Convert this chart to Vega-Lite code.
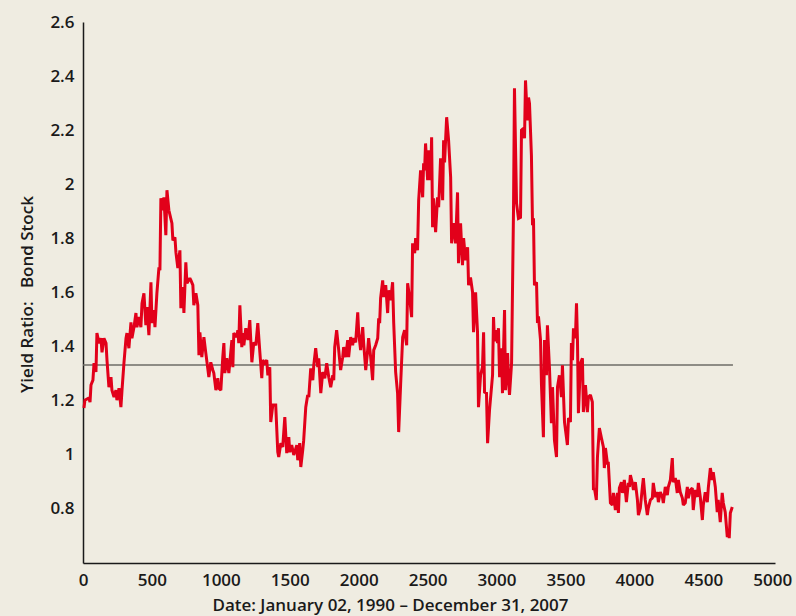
{
  "$schema": "https://vega.github.io/schema/vega-lite/v6.json",
  "autosize": {"type": "none"},
  "padding": {"left": 83, "top": 22, "right": 21, "bottom": 53},
  "width": 692,
  "height": 541,
  "background": "#efece1",
  "config": {
    "view": {"stroke": null},
    "axis": {"grid": false, "ticks": false, "domainColor": "#1a1a1a", "domainWidth": 1.5,
      "labelFont": "Open Sans", "labelFontWeight": 600, "labelFontSize": 17, "labelColor": "#1a1a1a",
      "titleFont": "Open Sans", "titleFontWeight": 600, "titleFontSize": 17, "titleColor": "#1a1a1a"}
  },
  "datasets": {
    "series": [
      {"day":7,"ratio":1.173},{"day":14,"ratio":1.202},{"day":43,"ratio":1.21},{"day":51,"ratio":1.195},{"day":58,"ratio":1.258},{"day":72,"ratio":1.276},{"day":80,"ratio":1.339},{"day":94,"ratio":1.306},{"day":101,"ratio":1.45},{"day":116,"ratio":1.413},{"day":130,"ratio":1.431},{"day":138,"ratio":1.379},{"day":152,"ratio":1.431},{"day":167,"ratio":1.413},{"day":174,"ratio":1.35},{"day":188,"ratio":1.25},{"day":203,"ratio":1.287},{"day":210,"ratio":1.239},{"day":225,"ratio":1.213},{"day":239,"ratio":1.239},{"day":246,"ratio":1.202},{"day":261,"ratio":1.246},{"day":275,"ratio":1.176},{"day":283,"ratio":1.239},{"day":297,"ratio":1.339},{"day":312,"ratio":1.431},{"day":319,"ratio":1.45},{"day":333,"ratio":1.394},{"day":348,"ratio":1.49},{"day":355,"ratio":1.431},{"day":370,"ratio":1.472},{"day":384,"ratio":1.524},{"day":391,"ratio":1.472},{"day":406,"ratio":1.509},{"day":420,"ratio":1.472},{"day":428,"ratio":1.56},{"day":442,"ratio":1.597},{"day":456,"ratio":1.479},{"day":464,"ratio":1.546},{"day":478,"ratio":1.442},{"day":493,"ratio":1.638},{"day":500,"ratio":1.487},{"day":514,"ratio":1.535},{"day":522,"ratio":1.472},{"day":536,"ratio":1.597},{"day":551,"ratio":1.693},{"day":558,"ratio":1.682},{"day":565,"ratio":1.948},{"day":580,"ratio":1.904},{"day":587,"ratio":1.952},{"day":601,"ratio":1.812},{"day":609,"ratio":1.978},{"day":623,"ratio":1.904},{"day":645,"ratio":1.856},{"day":652,"ratio":1.793},{"day":667,"ratio":1.804},{"day":674,"ratio":1.749},{"day":688,"ratio":1.69},{"day":703,"ratio":1.756},{"day":710,"ratio":1.542},{"day":725,"ratio":1.62},{"day":732,"ratio":1.524},{"day":746,"ratio":1.712},{"day":754,"ratio":1.634},{"day":775,"ratio":1.653},{"day":783,"ratio":1.645},{"day":797,"ratio":1.627},{"day":804,"ratio":1.553},{"day":819,"ratio":1.597},{"day":833,"ratio":1.553},{"day":841,"ratio":1.368},{"day":848,"ratio":1.453},{"day":862,"ratio":1.361},{"day":877,"ratio":1.435},{"day":891,"ratio":1.376},{"day":913,"ratio":1.287},{"day":927,"ratio":1.342},{"day":942,"ratio":1.313},{"day":949,"ratio":1.302},{"day":964,"ratio":1.239},{"day":978,"ratio":1.283},{"day":985,"ratio":1.246},{"day":1000,"ratio":1.239},{"day":1014,"ratio":1.361},{"day":1022,"ratio":1.413},{"day":1029,"ratio":1.302},{"day":1043,"ratio":1.357},{"day":1058,"ratio":1.302},{"day":1080,"ratio":1.424},{"day":1087,"ratio":1.324},{"day":1094,"ratio":1.45},{"day":1116,"ratio":1.435},{"day":1123,"ratio":1.461},{"day":1130,"ratio":1.413},{"day":1138,"ratio":1.553},{"day":1152,"ratio":1.398},{"day":1159,"ratio":1.45},{"day":1167,"ratio":1.405},{"day":1181,"ratio":1.468},{"day":1196,"ratio":1.424},{"day":1210,"ratio":1.498},{"day":1225,"ratio":1.342},{"day":1239,"ratio":1.416},{"day":1254,"ratio":1.405},{"day":1268,"ratio":1.487},{"day":1283,"ratio":1.379},{"day":1297,"ratio":1.283},{"day":1304,"ratio":1.35},{"day":1319,"ratio":1.339},{"day":1333,"ratio":1.35},{"day":1341,"ratio":1.294},{"day":1355,"ratio":1.324},{"day":1362,"ratio":1.121},{"day":1377,"ratio":1.184},{"day":1398,"ratio":1.184},{"day":1413,"ratio":1.01},{"day":1420,"ratio":0.992},{"day":1435,"ratio":1.043},{"day":1449,"ratio":1.029},{"day":1464,"ratio":1.139},{"day":1478,"ratio":1.006},{"day":1493,"ratio":1.065},{"day":1500,"ratio":1.01},{"day":1514,"ratio":1.036},{"day":1529,"ratio":0.999},{"day":1551,"ratio":1.036},{"day":1558,"ratio":0.98},{"day":1572,"ratio":1.043},{"day":1580,"ratio":0.955},{"day":1594,"ratio":1.017},{"day":1601,"ratio":1.054},{"day":1616,"ratio":1.176},{"day":1630,"ratio":1.221},{"day":1638,"ratio":1.213},{"day":1652,"ratio":1.32},{"day":1667,"ratio":1.276},{"day":1674,"ratio":1.331},{"day":1688,"ratio":1.394},{"day":1703,"ratio":1.324},{"day":1710,"ratio":1.357},{"day":1725,"ratio":1.228},{"day":1739,"ratio":1.306},{"day":1754,"ratio":1.283},{"day":1768,"ratio":1.339},{"day":1783,"ratio":1.287},{"day":1797,"ratio":1.25},{"day":1812,"ratio":1.294},{"day":1819,"ratio":1.276},{"day":1826,"ratio":1.398},{"day":1840,"ratio":1.461},{"day":1855,"ratio":1.387},{"day":1869,"ratio":1.313},{"day":1884,"ratio":1.361},{"day":1891,"ratio":1.398},{"day":1906,"ratio":1.361},{"day":1920,"ratio":1.424},{"day":1927,"ratio":1.361},{"day":1942,"ratio":1.435},{"day":1956,"ratio":1.405},{"day":1964,"ratio":1.431},{"day":1978,"ratio":1.416},{"day":1993,"ratio":1.527},{"day":2000,"ratio":1.45},{"day":2014,"ratio":1.387},{"day":2029,"ratio":1.472},{"day":2036,"ratio":1.413},{"day":2051,"ratio":1.313},{"day":2065,"ratio":1.387},{"day":2072,"ratio":1.431},{"day":2087,"ratio":1.361},{"day":2101,"ratio":1.276},{"day":2109,"ratio":1.387},{"day":2123,"ratio":1.405},{"day":2138,"ratio":1.431},{"day":2145,"ratio":1.505},{"day":2152,"ratio":1.487},{"day":2159,"ratio":1.579},{"day":2174,"ratio":1.645},{"day":2181,"ratio":1.583},{"day":2196,"ratio":1.627},{"day":2210,"ratio":1.524},{"day":2217,"ratio":1.608},{"day":2232,"ratio":1.572},{"day":2246,"ratio":1.638},{"day":2254,"ratio":1.487},{"day":2268,"ratio":1.306},{"day":2282,"ratio":1.228},{"day":2290,"ratio":1.084},{"day":2304,"ratio":1.258},{"day":2319,"ratio":1.435},{"day":2333,"ratio":1.461},{"day":2348,"ratio":1.405},{"day":2355,"ratio":1.634},{"day":2369,"ratio":1.583},{"day":2384,"ratio":1.509},{"day":2391,"ratio":1.782},{"day":2406,"ratio":1.745},{"day":2413,"ratio":1.801},{"day":2427,"ratio":1.756},{"day":2435,"ratio":1.941},{"day":2449,"ratio":2.052},{"day":2464,"ratio":1.952},{"day":2471,"ratio":2.078},{"day":2478,"ratio":2.052},{"day":2485,"ratio":2.151},{"day":2500,"ratio":2.015},{"day":2507,"ratio":2.126},{"day":2522,"ratio":2.015},{"day":2529,"ratio":2.174},{"day":2536,"ratio":1.841},{"day":2543,"ratio":1.948},{"day":2558,"ratio":1.823},{"day":2572,"ratio":1.952},{"day":2580,"ratio":1.915},{"day":2594,"ratio":2.096},{"day":2609,"ratio":1.941},{"day":2616,"ratio":2.163},{"day":2623,"ratio":2.081},{"day":2638,"ratio":2.248},{"day":2652,"ratio":2.163},{"day":2667,"ratio":2.026},{"day":2674,"ratio":1.782},{"day":2688,"ratio":1.856},{"day":2703,"ratio":1.782},{"day":2717,"ratio":1.97},{"day":2724,"ratio":1.708},{"day":2739,"ratio":1.856},{"day":2753,"ratio":1.701},{"day":2761,"ratio":1.801},{"day":2775,"ratio":1.719},{"day":2790,"ratio":1.767},{"day":2797,"ratio":1.627},{"day":2811,"ratio":1.656},{"day":2826,"ratio":1.601},{"day":2833,"ratio":1.453},{"day":2848,"ratio":1.601},{"day":2862,"ratio":1.453},{"day":2869,"ratio":1.176},{"day":2884,"ratio":1.294},{"day":2898,"ratio":1.324},{"day":2906,"ratio":1.453},{"day":2913,"ratio":1.232},{"day":2927,"ratio":1.228},{"day":2935,"ratio":1.043},{"day":2949,"ratio":1.165},{"day":2971,"ratio":1.294},{"day":2978,"ratio":1.509},{"day":2985,"ratio":1.42},{"day":3000,"ratio":1.461},{"day":3007,"ratio":1.413},{"day":3014,"ratio":1.468},{"day":3022,"ratio":1.287},{"day":3036,"ratio":1.394},{"day":3043,"ratio":1.228},{"day":3058,"ratio":1.535},{"day":3065,"ratio":1.239},{"day":3080,"ratio":1.376},{"day":3087,"ratio":1.276},{"day":3094,"ratio":1.221},{"day":3109,"ratio":1.339},{"day":3123,"ratio":1.904},{"day":3130,"ratio":2.355},{"day":3145,"ratio":1.93},{"day":3159,"ratio":1.874},{"day":3174,"ratio":1.878},{"day":3181,"ratio":2.2},{"day":3195,"ratio":2.207},{"day":3203,"ratio":2.17},{"day":3210,"ratio":2.384},{"day":3224,"ratio":2.236},{"day":3232,"ratio":2.321},{"day":3239,"ratio":2.299},{"day":3253,"ratio":2.107},{"day":3261,"ratio":1.849},{"day":3268,"ratio":1.874},{"day":3275,"ratio":1.627},{"day":3290,"ratio":1.638},{"day":3297,"ratio":1.487},{"day":3304,"ratio":1.512},{"day":3319,"ratio":1.424},{"day":3326,"ratio":1.258},{"day":3340,"ratio":1.065},{"day":3348,"ratio":1.424},{"day":3362,"ratio":1.294},{"day":3369,"ratio":1.479},{"day":3384,"ratio":1.32},{"day":3398,"ratio":1.117},{"day":3406,"ratio":1.25},{"day":3420,"ratio":1.054},{"day":3435,"ratio":0.992},{"day":3442,"ratio":1.25},{"day":3456,"ratio":1.294},{"day":3471,"ratio":1.213},{"day":3478,"ratio":1.331},{"day":3493,"ratio":1.121},{"day":3507,"ratio":1.065},{"day":3514,"ratio":1.036},{"day":3522,"ratio":1.136},{"day":3536,"ratio":1.121},{"day":3543,"ratio":1.413},{"day":3551,"ratio":1.35},{"day":3558,"ratio":1.468},{"day":3572,"ratio":1.431},{"day":3580,"ratio":1.56},{"day":3587,"ratio":1.424},{"day":3594,"ratio":1.154},{"day":3609,"ratio":1.339},{"day":3623,"ratio":1.357},{"day":3630,"ratio":1.158},{"day":3645,"ratio":1.258},{"day":3659,"ratio":1.158},{"day":3666,"ratio":1.213},{"day":3681,"ratio":1.221},{"day":3695,"ratio":1.195},{"day":3703,"ratio":0.87},{"day":3710,"ratio":0.877},{"day":3724,"ratio":0.833},{"day":3732,"ratio":0.992},{"day":3746,"ratio":1.099},{"day":3761,"ratio":1.062},{"day":3775,"ratio":1.029},{"day":3782,"ratio":0.951},{"day":3790,"ratio":1.025},{"day":3804,"ratio":0.969},{"day":3811,"ratio":0.969},{"day":3826,"ratio":0.822},{"day":3840,"ratio":0.814},{"day":3848,"ratio":0.859},{"day":3862,"ratio":0.796},{"day":3877,"ratio":0.859},{"day":3884,"ratio":0.785},{"day":3891,"ratio":0.877},{"day":3906,"ratio":0.899},{"day":3913,"ratio":0.859},{"day":3927,"ratio":0.907},{"day":3942,"ratio":0.825},{"day":3956,"ratio":0.896},{"day":3964,"ratio":0.881},{"day":3971,"ratio":0.925},{"day":3985,"ratio":0.896},{"day":3993,"ratio":0.87},{"day":4007,"ratio":0.899},{"day":4022,"ratio":0.833},{"day":4029,"ratio":0.777},{"day":4043,"ratio":0.803},{"day":4058,"ratio":0.881},{"day":4065,"ratio":0.914},{"day":4079,"ratio":0.833},{"day":4094,"ratio":0.777},{"day":4101,"ratio":0.803},{"day":4116,"ratio":0.833},{"day":4130,"ratio":0.84},{"day":4137,"ratio":0.896},{"day":4152,"ratio":0.844},{"day":4166,"ratio":0.862},{"day":4174,"ratio":0.825},{"day":4188,"ratio":0.862},{"day":4203,"ratio":0.844},{"day":4210,"ratio":0.822},{"day":4224,"ratio":0.881},{"day":4239,"ratio":0.851},{"day":4246,"ratio":0.881},{"day":4261,"ratio":0.907},{"day":4275,"ratio":0.988},{"day":4282,"ratio":0.899},{"day":4297,"ratio":0.914},{"day":4311,"ratio":0.859},{"day":4319,"ratio":0.907},{"day":4333,"ratio":0.862},{"day":4348,"ratio":0.84},{"day":4355,"ratio":0.814},{"day":4369,"ratio":0.822},{"day":4384,"ratio":0.881},{"day":4391,"ratio":0.84},{"day":4406,"ratio":0.87},{"day":4420,"ratio":0.877},{"day":4427,"ratio":0.796},{"day":4442,"ratio":0.87},{"day":4456,"ratio":0.844},{"day":4464,"ratio":0.896},{"day":4478,"ratio":0.844},{"day":4493,"ratio":0.759},{"day":4500,"ratio":0.814},{"day":4514,"ratio":0.862},{"day":4529,"ratio":0.825},{"day":4536,"ratio":0.877},{"day":4551,"ratio":0.951},{"day":4565,"ratio":0.907},{"day":4572,"ratio":0.936},{"day":4587,"ratio":0.881},{"day":4601,"ratio":0.788},{"day":4608,"ratio":0.833},{"day":4623,"ratio":0.751},{"day":4637,"ratio":0.859},{"day":4645,"ratio":0.822},{"day":4659,"ratio":0.788},{"day":4674,"ratio":0.696},{"day":4681,"ratio":0.722},{"day":4688,"ratio":0.692},{"day":4696,"ratio":0.785},{"day":4710,"ratio":0.807}
    ],
    "mean": [{"start": 0, "end": 4715, "level": 1.332}]
  },
  "layer": [
    {
      "data": {"name": "mean"},
      "mark": {"type": "rule", "color": "#6e6c66", "strokeWidth": 1.5},
      "encoding": {
        "x": {"field": "start", "type": "quantitative"},
        "x2": {"field": "end"},
        "y": {"field": "level", "type": "quantitative"}
      }
    },
    {
      "data": {"name": "series"},
      "mark": {"type": "line", "color": "#e2001a", "strokeWidth": 3, "strokeJoin": "miter", "strokeMiterLimit": 2},
      "encoding": {
        "x": {"field": "day", "type": "quantitative",
          "scale": {"domain": [0, 5020], "nice": false, "zero": false},
          "axis": {"values": [0, 500, 1000, 1500, 2000, 2500, 3000, 3500, 4000, 4500, 5000], "format": "d",
            "labelPadding": 9, "labelFlush": false, "labelOverlap": false,
            "title": "Date: January 02, 1990 – December 31, 2007", "titleX": 307, "titleY": 47, "titleBaseline": "alphabetic", "titleAnchor": "middle"}},
        "y": {"field": "ratio", "type": "quantitative",
          "scale": {"domain": [0.6, 2.6], "nice": false, "zero": false},
          "axis": {"values": [0.8, 1, 1.2, 1.4, 1.6, 1.8, 2, 2.2, 2.4, 2.6], "format": "~g", "labelPadding": 9, "labelFlush": false, "labelOverlap": false,
            "title": "Yield Ratio:\u00a0\u00a0\u00a0Bond Stock", "titleX": -51, "titleY": 272, "titleAngle": -90, "titleAnchor": "middle", "titleBaseline": "alphabetic"}}
      }
    }
  ]
}
